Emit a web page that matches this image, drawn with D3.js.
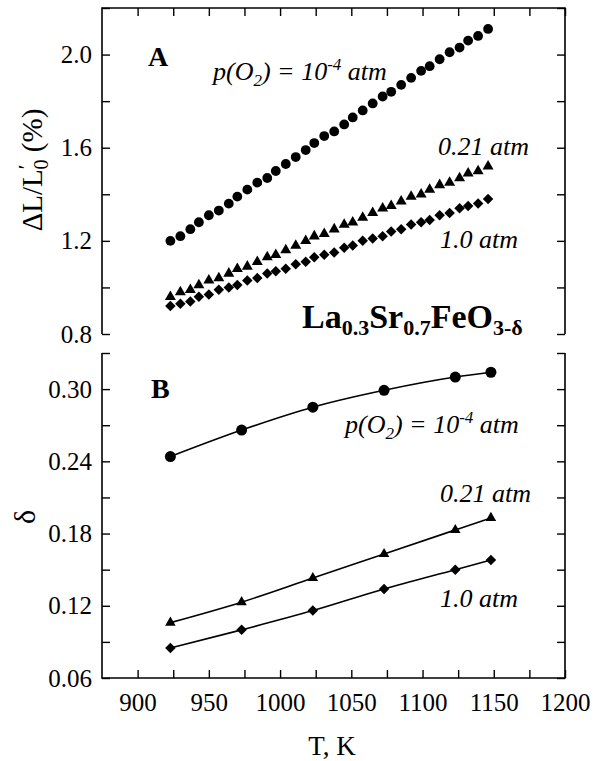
<!DOCTYPE html>
<html>
<head>
<meta charset="utf-8">
<script src="https://cdn.jsdelivr.net/npm/d3@7"></script>
<style>
  html,body{margin:0;padding:0;background:#fff;}
  svg{display:block;}
  svg text{font-family:"Liberation Serif","Times New Roman",Times,serif;fill:#000;}
</style>
</head>
<body>
<svg id="chart" width="594" height="761"></svg>
<script>
// ── data ──
// panel A: dilatometry, dense temperature scan (K)
const T_scan=[923,930,937,943,950,957,964,970,977,984,991,997,1004,1011,1018,1024,1031,1038,1045,1051,1058,1065,1072,1078,1085,1092,1099,1105,1112,1119,1126,1132,1139,1146];
const dL_1e4=[1.20,1.22,1.25,1.28,1.31,1.33,1.36,1.39,1.42,1.45,1.47,1.50,1.53,1.56,1.59,1.62,1.65,1.67,1.70,1.73,1.76,1.79,1.82,1.84,1.87,1.90,1.93,1.95,1.98,2.01,2.03,2.06,2.08,2.11];
const dL_021=[0.96,0.98,0.99,1.01,1.03,1.04,1.06,1.08,1.09,1.11,1.13,1.14,1.16,1.18,1.20,1.22,1.23,1.25,1.27,1.28,1.30,1.32,1.34,1.35,1.37,1.39,1.40,1.42,1.44,1.45,1.47,1.49,1.50,1.52];
const dL_10=[0.92,0.93,0.94,0.96,0.97,0.99,1.00,1.01,1.03,1.04,1.06,1.07,1.08,1.10,1.11,1.13,1.14,1.15,1.17,1.18,1.20,1.21,1.22,1.24,1.25,1.27,1.28,1.29,1.31,1.32,1.34,1.35,1.36,1.38];
// panel B: oxygen nonstoichiometry
const T_delta=[923,973,1023,1073,1123,1148];
const delta_1e4=[0.244,0.266,0.285,0.299,0.310,0.314];
const delta_021=[0.106,0.123,0.143,0.163,0.183,0.193];
const delta_10=[0.085,0.100,0.116,0.134,0.150,0.158];
// ticks
const xTicks=[900,925,950,975,1000,1025,1050,1075,1100,1125,1150,1175,1200];
const xLabels=[900,950,1000,1050,1100,1150,1200];
const yTicksA=[0.8,1.0,1.2,1.4,1.6,1.8,2.0,2.2];
const yLabelsA=[0.8,1.2,1.6,2.0];
const yTicksB=[0.06,0.09,0.12,0.15,0.18,0.21,0.24,0.27,0.30,0.33];
const yLabelsB=[0.06,0.12,0.18,0.24,0.30];

// ── layout ──
const L=102,R=565,A_TOP=8,A_BOT=334,B_TOP=353,B_BOT=678,TICK=8;
const SERIF='"Liberation Serif","Times New Roman",Times,serif';
const svg=d3.select('#chart');
const x=d3.scaleLinear().domain([875,1200]).range([L,R]);
const yA=d3.scaleLinear().domain([0.8,2.2]).range([A_BOT,A_TOP]);
const yB=d3.scaleLinear().domain([0.06,0.33]).range([B_BOT,B_TOP]);

const has=(arr,v)=>arr.some(a=>Math.abs(a-v)<1e-9);

function styleAxis(g){
  g.attr('font-family',SERIF).attr('font-size',25);
  g.select('.domain').remove();
  g.selectAll('line').attr('stroke','#000').attr('stroke-width',1.4);
  g.selectAll('text').attr('fill','#000');
}

// left / right axes
function yAxes(y,ticks,labels,fmt){
  svg.append('g').attr('transform',`translate(${L},0)`)
    .call(d3.axisLeft(y).tickValues(ticks).tickSizeInner(-TICK).tickSizeOuter(0).tickPadding(10)
      .tickFormat(d=>has(labels,d)?fmt(d):''))
    .call(styleAxis);
  svg.append('g').attr('transform',`translate(${R},0)`)
    .call(d3.axisRight(y).tickValues(ticks).tickSizeInner(-TICK).tickSizeOuter(0).tickFormat(''))
    .call(styleAxis);
}
yAxes(yA,yTicksA,yLabelsA,d3.format('.1f'));
yAxes(yB,yTicksB,yLabelsB,d3.format('.2f'));

// top axis of A (ticks only), bottom axis of B
svg.append('g').attr('transform',`translate(0,${A_TOP})`)
  .call(d3.axisTop(x).tickValues(xTicks).tickSizeInner(-TICK).tickSizeOuter(0).tickFormat(''))
  .call(styleAxis);
svg.append('g').attr('transform',`translate(0,${B_BOT})`)
  .call(d3.axisBottom(x).tickValues(xTicks).tickSizeInner(-TICK).tickSizeOuter(0).tickPadding(15)
    .tickFormat(d=>has(xLabels,d)?d:''))
  .call(styleAxis);

// frames (A open at bottom, B open at top)
const frame=svg.append('g').attr('fill','none').attr('stroke','#000').attr('stroke-width',1.6);
frame.append('path').attr('d',`M${L},${A_BOT}V${A_TOP}H${R}V${A_BOT}`);
frame.append('path').attr('d',`M${L},${B_TOP}V${B_BOT}H${R}V${B_TOP}`);

// ── markers ──
const sym={
  circle:r=>d3.symbol(d3.symbolCircle,Math.PI*r*r)(),
  tri:w=>d3.symbol(d3.symbolTriangle,w*w*Math.sqrt(3)/4)(),
  dia:w=>d3.symbol(d3.symbolSquare,w*w/2)()
};
function markers(xs,ys,y,path,rot){
  svg.append('g').selectAll('path').data(xs.map((t,i)=>[t,ys[i]])).join('path')
    .attr('d',path).attr('fill','#000')
    .attr('transform',d=>`translate(${x(d[0])},${y(d[1])})${rot?' rotate(45)':''}`);
}
markers(T_scan,dL_1e4,yA,sym.circle(4.9));
markers(T_scan,dL_021,yA,sym.tri(11));
markers(T_scan,dL_10,yA,sym.dia(10.5),true);

const line=d3.line().x(d=>x(d[0])).curve(d3.curveMonotoneX);
[delta_1e4,delta_021,delta_10].forEach(s=>{
  svg.append('path').datum(T_delta.map((t,i)=>[t,s[i]]))
    .attr('d',line.y(d=>yB(d[1]))).attr('fill','none').attr('stroke','#000').attr('stroke-width',1.6);
});
markers(T_delta,delta_1e4,yB,sym.circle(5.5));
markers(T_delta,delta_021,yB,sym.tri(10.5));
markers(T_delta,delta_10,yB,sym.dia(10.5),true);

// ── text ──
const txt=(x0,y0,size,opts={})=>svg.append('text').attr('x',x0).attr('y',y0)
  .attr('font-size',size).attr('font-weight',opts.bold?'bold':null)
  .attr('font-style',opts.italic?'italic':null).attr('text-anchor',opts.anchor||'start');

txt(148,66,28,{bold:true}).text('A');
txt(151,398,28,{bold:true}).text('B');

function pO2(x0,y0){
  const t=txt(x0,y0,26,{italic:true});
  t.append('tspan').text('p(O');
  t.append('tspan').attr('dy',6).attr('font-size',17).text('2');
  t.append('tspan').attr('dy',-6).text(') = 10');
  t.append('tspan').attr('dy',-10).attr('font-size',17).text('-4');
  t.append('tspan').attr('dy',10).text(' atm');
}
pO2(213,80);
txt(438,155,26,{italic:true}).text('0.21 atm');
txt(440,248,26,{italic:true}).text('1.0 atm');
pO2(345,433);
txt(440,502,26,{italic:true}).text('0.21 atm');
txt(440,607,26,{italic:true}).text('1.0 atm');

// formula
const f=txt(302,328,34,{bold:true});
[['La',0],['0.3',1],['Sr',0],['0.7',1],['FeO',0],['3-δ',1]].forEach(([s,sub],i,a)=>{
  const prev=i?a[i-1][1]:0;
  f.append('tspan').attr('dy',(sub-prev)*7).attr('font-size',sub?22:34).text(s);
});

// axis titles
const ya=svg.append('text').attr('transform','translate(42,170) rotate(-90)')
  .attr('text-anchor','middle').attr('font-size',29);
ya.append('tspan').text('ΔL/L');
ya.append('tspan').attr('dy',-9).attr('font-size',22).text('′');
ya.append('tspan').attr('dx',-5).attr('dy',15).attr('font-size',20).text('0');
ya.append('tspan').attr('dy',-6).text(' (%)');

svg.append('text').attr('transform','translate(35,517) rotate(-90)')
  .attr('text-anchor','middle').attr('font-size',30).text('δ');
txt(332,755,27,{anchor:'middle'}).text('T, K');
</script>
</body>
</html>
